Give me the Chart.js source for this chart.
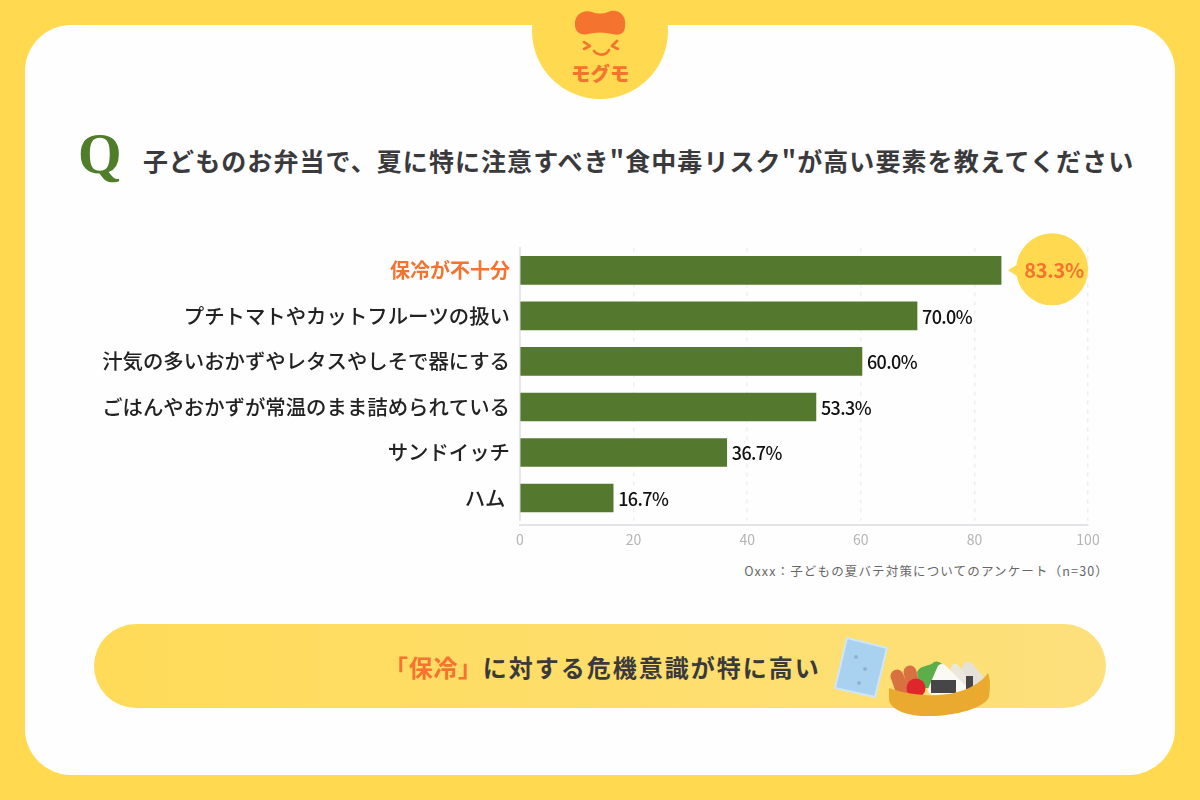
<!DOCTYPE html>
<html lang="ja">
<head>
<meta charset="utf-8">
<title>食中毒リスク</title>
<script src="https://cdn.jsdelivr.net/npm/chart.js@4/dist/chart.umd.min.js"></script>
<style>
    html, body { margin: 0; padding: 0; background: #ffd94f; }
    #page { position: relative; width: 1200px; height: 800px; overflow: hidden; background: #ffd94f; font-family: "Noto Sans CJK JP", "Noto Sans", sans-serif; }
    #card { position: absolute; left: 25px; top: 25px; width: 1150px; height: 750px; border-radius: 46px; background: #fffeff; }
    #deco { position: absolute; left: 0; top: 0; }
    #banner { position: absolute; left: 94px; top: 624px; width: 1012px; height: 84px; border-radius: 42px; background: linear-gradient(90deg, #ffdb58, #fde07c); }
    canvas { position: absolute; left: 0; top: 0; }
    .txt { position: absolute; white-space: nowrap; }
    #logoText { left: 571px; top: 59px; font-size: 19.5px; font-weight: 900; color: #f4732f; letter-spacing: 0; line-height: 28px; }
    #q { left: 78px; top: 121px; font-family: "Liberation Serif", serif; font-size: 56px; font-weight: 700; color: #4f7d2a; line-height: 66px; }
    #title { left: 143px; top: 139px; font-size: 25px; font-weight: 700; color: #3a3a3c; line-height: 42px; letter-spacing: 1.08px; }
    #source { right: 91px; top: 561px; font-size: 12.5px; color: #666; line-height: 20px; letter-spacing: 1.15px; }
    #message { left: 384px; top: 647px; font-size: 24px; font-weight: 700; color: #3a3a3c; line-height: 40px; letter-spacing: 2px; }
    #message b { color: #f4732f; font-weight: 700; letter-spacing: 0.7px; }
</style>
</head>
<body>
<div id="page">
    <div id="card"></div>
    <div id="banner"></div>
    <svg id="deco" width="1200" height="800" viewBox="0 0 1200 800">
        <!-- ロゴ -->
        <circle cx="600" cy="31" r="68" fill="#ffd94f"/>
        <path d="M575 25 C574 15 583 9 592 12 C597 14 603 14 608 12 C617 8 627 15 625 26 C625 34 619 36 612 34 C604 32 596 32 588 34 C581 36 575 32 575 25 Z" fill="#f4732f"/>
        <path d="M584 42 L590 46 L584 49 M617 41 L612 46 L618 49 M594 51 C598 56 606 56 609 50" fill="none" stroke="#f4732f" stroke-width="2.6" stroke-linecap="round" stroke-linejoin="round"/>
        <!-- 保冷剤 -->
        <path d="M847 638 L887 648 L875 697 L835 688 Z" fill="#a8d2ef" stroke="#cfe6f6" stroke-width="2" stroke-linejoin="round"/>
        <circle cx="856" cy="657" r="2" fill="#8fb4cc"/><circle cx="865" cy="669" r="2" fill="#8fb4cc"/><circle cx="859" cy="683" r="2" fill="#8fb4cc"/>
        <!-- お弁当 -->
        <path d="M897 676 L902 690 M910 672 L914 688" fill="none" stroke="#d9703f" stroke-width="13" stroke-linecap="round"/>
        <path d="M917 672 C921 664 930 667 934 662 C939 660 942 664 946 668 L938 688 L920 688 Z" fill="#5cae4a"/>
        <circle cx="916" cy="688" r="9.5" fill="#e0262d"/>
        <path d="M968 666 L982 682 L978 688 L955 690 Z" fill="#e6e1d8" stroke="#e6e1d8" stroke-width="9" stroke-linejoin="round"/>
        <path d="M955 668 L970 687 L950 690 Z" fill="#ebe7dd" stroke="#ebe7dd" stroke-width="8" stroke-linejoin="round"/>
        <rect x="966" y="676" width="7" height="13" fill="#464648"/>
        <path d="M942 669 L961 688 L933 690 Z" fill="#fbf9f3" stroke="#fbf9f3" stroke-width="10" stroke-linejoin="round"/>
        <rect x="931" y="680" width="25" height="13" fill="#464648"/>
        <path d="M889 688 C905 694 925 696 940 695 C960 694 980 685 988 673 C991 680 990 690 989 697 C985 708 955 716 930 716 C905 717 889 708 889 699 Z" fill="#eaa92f"/>
    </svg>
    <div class="txt" id="logoText">モグモ</div>
    <div class="txt" id="q">Q</div>
    <div class="txt" id="title">子どものお弁当で、夏に特に注意すべき"食中毒リスク"が高い要素を教えてください</div>
    <div class="txt" id="source">Oxxx：子どもの夏バテ対策についてのアンケート（n=30）</div>
    <div class="txt" id="message"><b>「保冷」</b>に対する危機意識が特に高い</div>
    <canvas id="barChart" width="1200" height="800"></canvas>
</div>

<script>
// 項目名
const categories = [
    '保冷が不十分',
    'プチトマトやカットフルーツの扱い',
    '汁気の多いおかずやレタスやしそで器にする',
    'ごはんやおかずが常温のまま詰められている',
    'サンドイッチ',
    'ハム '
];
// 棒の長さ (軸目盛りから読み取り)
const barValues = [84.7, 69.9, 60.2, 52.1, 36.4, 16.4];
// 棒の横に印字されている数値
const printedPercent = ['83.3%', '70.0%', '60.0%', '53.3%', '36.7%', '16.7%'];
const xTickValues = [0, 20, 40, 60, 80, 100];

const ORANGE = '#f4732f';
const GREEN = '#53782e';
const FONT = '"Noto Sans CJK JP", "Noto Sans", sans-serif';

// ラベルと吹き出し
const valueLabels = {
    id: 'valueLabels',
    afterDatasetsDraw(chart) {
        const ctx = chart.ctx;
        const bars = chart.getDatasetMeta(0).data;
        ctx.save();
        ctx.textBaseline = 'middle';
        bars.forEach(function(bar, i) {
            if (i === 0) {
                const cx = bar.x + 51;
                ctx.fillStyle = '#ffd94f';
                ctx.beginPath();
                ctx.ellipse(cx, bar.y - 1, 36, 36, 0, 0, Math.PI * 2);
                ctx.fill();
                ctx.beginPath();
                ctx.moveTo(bar.x + 7, bar.y);
                ctx.lineTo(bar.x + 21, bar.y - 9);
                ctx.lineTo(bar.x + 21, bar.y + 9);
                ctx.closePath();
                ctx.fill();
                ctx.fillStyle = ORANGE;
                ctx.textAlign = 'center';
                ctx.letterSpacing = '-0.3px';
                ctx.font = '700 20px ' + FONT;
                ctx.fillText(printedPercent[i], cx + 2, bar.y);
            } else {
                ctx.fillStyle = '#111';
                ctx.textAlign = 'left';
                ctx.letterSpacing = '-0.6px';
                ctx.font = '500 18px ' + FONT;
                ctx.fillText(printedPercent[i], bar.x + 5, bar.y + 1);
            }
        });
        ctx.restore();
    }
};

new Chart(document.getElementById('barChart'), {
    type: 'bar',
    data: {
        labels: categories,
        datasets: [{
            data: barValues,
            backgroundColor: GREEN,
            barThickness: 28
        }]
    },
    options: {
        indexAxis: 'y',
        responsive: false,
        animation: false,
        layout: { padding: { top: 247.6, bottom: 279.2, left: 0, right: 112 } },
        plugins: { legend: { display: false }, tooltip: { enabled: false } },
        scales: {
            x: {
                position: { y: 5.59 },
                min: 0,
                max: 100,
                afterBuildTicks: function(scale) {
                    scale.ticks = xTickValues.map(v => ({ value: v }));
                },
                grid: { color: '#eeeef2', lineWidth: 1.5, drawTicks: false },
                border: { color: '#e3e3e7', width: 2, dash: [4, 5] },
                ticks: {
                    color: '#b4b4b4',
                    font: { family: FONT, size: 14 },
                    padding: 6,
                    maxRotation: 0
                }
            },
            y: {
                afterFit: function(scale) { scale.width = 520; },
                grid: { display: false },
                border: { color: '#e8e8ec', width: 2 },
                ticks: {
                    autoSkip: false,
                    padding: 2,
                    color: ctx => (ctx.index === 0 ? ORANGE : '#222'),
                    font: ctx => ({ family: FONT, size: ctx.index === 0 ? 20 : 20.4, weight: ctx.index === 0 ? '700' : '500' })
                }
            }
        }
    },
    plugins: [valueLabels]
});
</script>
</body>
</html>
